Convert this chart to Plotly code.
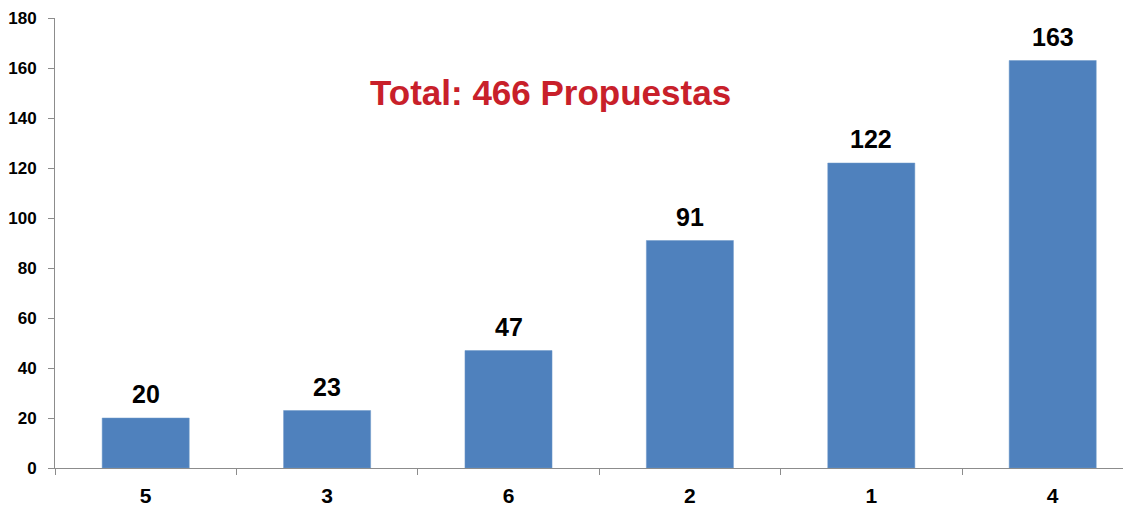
import plotly.graph_objects as go

categories = ["5", "3", "6", "2", "1", "4"]
values = [20, 23, 47, 91, 122, 163]
y_ticks = [0, 20, 40, 60, 80, 100, 120, 140, 160, 180]
title_text = "Total: 466 Propuestas"

BAR = "#4F81BD"
AXIS = "#8C8C8C"
RED = "#C8202A"
FONT = "Liberation Sans, Arial, sans-serif"

fig = go.Figure()
fig.add_trace(go.Bar(
    x=categories, y=values,
    marker=dict(color=BAR, line=dict(color="#6F98C9", width=0.5)),
    width=0.48,
    hoverinfo="skip",
))

for i, v in enumerate(values):
    fig.add_annotation(
        x=i, y=v, xref="x", yref="y", text=f"<b>{v}</b>",
        showarrow=False, yanchor="bottom", yshift=8,
        font=dict(family=FONT, size=25, color="#000000"),
    )

fig.add_annotation(
    xref="paper", yref="paper",
    x=(550 - 55) / (1131 - 55), y=(468 - 93) / 450,
    xanchor="center", yanchor="middle",
    text=f"<b>{title_text}</b>",
    showarrow=False, font=dict(family=FONT, size=35, color=RED),
)

n_px_per_cat = 181.4
plot_w = 1131 - 55
fig.update_layout(
    width=1131, height=507,
    margin=dict(l=47, r=8, t=10, b=47),
    plot_bgcolor="white", paper_bgcolor="white",
    showlegend=False,
    xaxis=dict(
        type="category", automargin=False,
        range=[-0.5, -0.5 + plot_w / n_px_per_cat],
        tickvals=categories, ticktext=[f"<b>{c}</b>" for c in categories],
        showline=True, linecolor=AXIS, linewidth=1,
        ticks="outside", tickson="boundaries", ticklen=6, tickcolor=AXIS,
        showgrid=False, zeroline=False,
        tickfont=dict(family=FONT, size=21, color="#000000"),
        ticklabelstandoff=9,
    ),
    yaxis=dict(
        range=[0, 180], tickvals=y_ticks, automargin=False,
        ticktext=[f"<b>{t}</b>" for t in y_ticks],
        showline=True, linecolor=AXIS, linewidth=1,
        ticks="outside", ticklen=6, tickcolor=AXIS,
        showgrid=False, zeroline=False,
        tickfont=dict(family=FONT, size=17, color="#000000"),
        ticklabelstandoff=8,
    ),
)

fig.write_html("out.html")
